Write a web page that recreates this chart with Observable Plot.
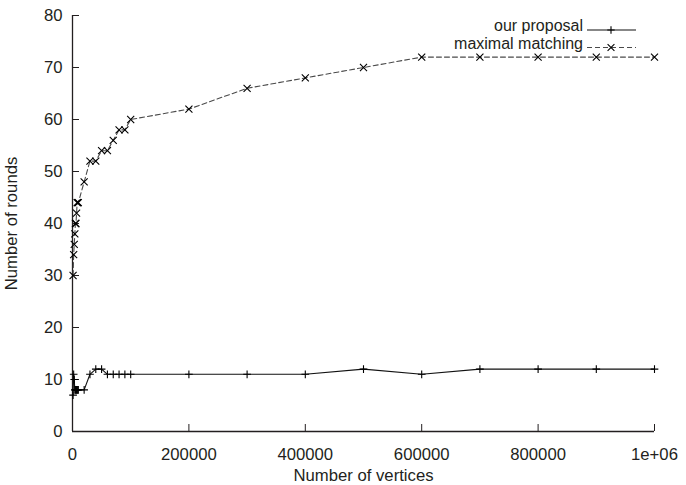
<!DOCTYPE html>
<html><head><meta charset="utf-8">
<script src="https://cdn.jsdelivr.net/npm/d3@7"></script>
<script src="https://cdn.jsdelivr.net/npm/@observablehq/plot@0.6"></script>
<style>
body{margin:0;background:#fff;}
#chart{position:relative;width:686px;height:485px;font-family:"Liberation Sans",Arial,sans-serif;}
#legend{position:absolute;left:0;top:0;pointer-events:none;}
</style></head><body><div id="chart"></div>
<script>
const vertices = [1000,2000,3000,4000,5000,6000,7000,8000,9000,10000,
  20000,30000,40000,50000,60000,70000,80000,90000,100000,
  200000,300000,400000,500000,600000,700000,800000,900000,1000000];
const ourProposal = [7,11,10,8,8,8,8,8,8,8,
  8,11,12,12,11,11,11,11,11,
  11,11,11,12,11,12,12,12,12];
const maximalMatching = [30,34,36,38,40,40,42,44,44,44,
  48,52,52,54,54,56,58,58,60,
  62,66,68,70,72,72,72,72,72];
const seriesNames = ["our proposal", "maximal matching"];
const xTicks = [0,200000,400000,600000,800000,1000000];
const xTickLabels = ["0","200000","400000","600000","800000","1e+06"];
const yTicks = [0,10,20,30,40,50,60,70,80];
const xTitle = "Number of vertices";
const yTitle = "Number of rounds";

const proposalData = vertices.map((v,i)=>({x:v,y:ourProposal[i]}));
const matchingData = vertices.map((v,i)=>({x:v,y:maximalMatching[i]}));
const ink = "#231f20";
const fs = 16.7;

const plot = Plot.plot({
  width: 686, height: 485,
  marginLeft: 72, marginRight: 32, marginTop: 15, marginBottom: 54,
  style: {fontFamily: "'Liberation Sans', Arial, sans-serif", fontSize: fs + "px", color: ink, background: "#fff"},
  x: {domain: [0, 1000000]},
  y: {domain: [0, 80]},
  marks: [
    Plot.axisX(xTicks, {tickSize: -7, tickPadding: 24, fontSize: fs, tickFormat: d => xTickLabels[xTicks.indexOf(d)], label: null, stroke: ink, fill: ink}),
    Plot.axisY(yTicks, {tickSize: -7, tickPadding: 17, fontSize: fs, label: null, stroke: ink, fill: ink}),
    Plot.ruleX([0], {stroke: ink, strokeWidth: 1.3}),
    Plot.ruleY([0], {stroke: ink, strokeWidth: 1.3}),
    Plot.line(matchingData, {x: "x", y: "y", stroke: "#4a4a4a", strokeWidth: 1.1, strokeDasharray: "5,3"}),
    Plot.line(proposalData, {x: "x", y: "y", stroke: "#111", strokeWidth: 1.1}),
    Plot.dot(matchingData, {x: "x", y: "y", symbol: "times", r: 3.3, stroke: "#000", strokeWidth: 1.1}),
    Plot.dot(proposalData, {x: "x", y: "y", symbol: "plus", r: 2.6, stroke: "#000", strokeWidth: 1.1}),
    Plot.text([xTitle], {frameAnchor: "bottom", textAnchor: "middle", dy: 49, fontSize: fs, fill: ink}),
    Plot.text([yTitle], {frameAnchor: "left", textAnchor: "middle", rotate: -90, dx: -61, fontSize: fs, fill: ink})
  ]
});
const chart = document.getElementById("chart");
chart.appendChild(plot);

// legend overlay
const leg = d3.select(chart).append("svg").attr("id","legend").attr("width",686).attr("height",485)
  .style("font-family","'Liberation Sans', Arial, sans-serif").style("font-size", "16px");
const legendRows = [
  {name: seriesNames[0], y: 30, dash: null, sym: d3.symbolPlus, size: 20, color: "#111"},
  {name: seriesNames[1], y: 47.5, dash: "5,3", sym: d3.symbolTimes, size: 32, color: "#4a4a4a"}
];
legendRows.forEach(r => {
  const g = leg.append("g");
  g.append("text").attr("x", 583).attr("y", r.y + 1).attr("text-anchor","end").attr("fill", ink).text(r.name);
  g.append("line").attr("x1", 587).attr("x2", 636).attr("y1", r.y).attr("y2", r.y)
    .attr("stroke", r.color).attr("stroke-width", 1.1).attr("stroke-dasharray", r.dash);
  g.append("path").attr("d", d3.symbol(r.sym, r.size)()).attr("transform", `translate(611,${r.y})`)
    .attr("fill","none").attr("stroke","#000").attr("stroke-width",1.1);
});
</script></body></html>
